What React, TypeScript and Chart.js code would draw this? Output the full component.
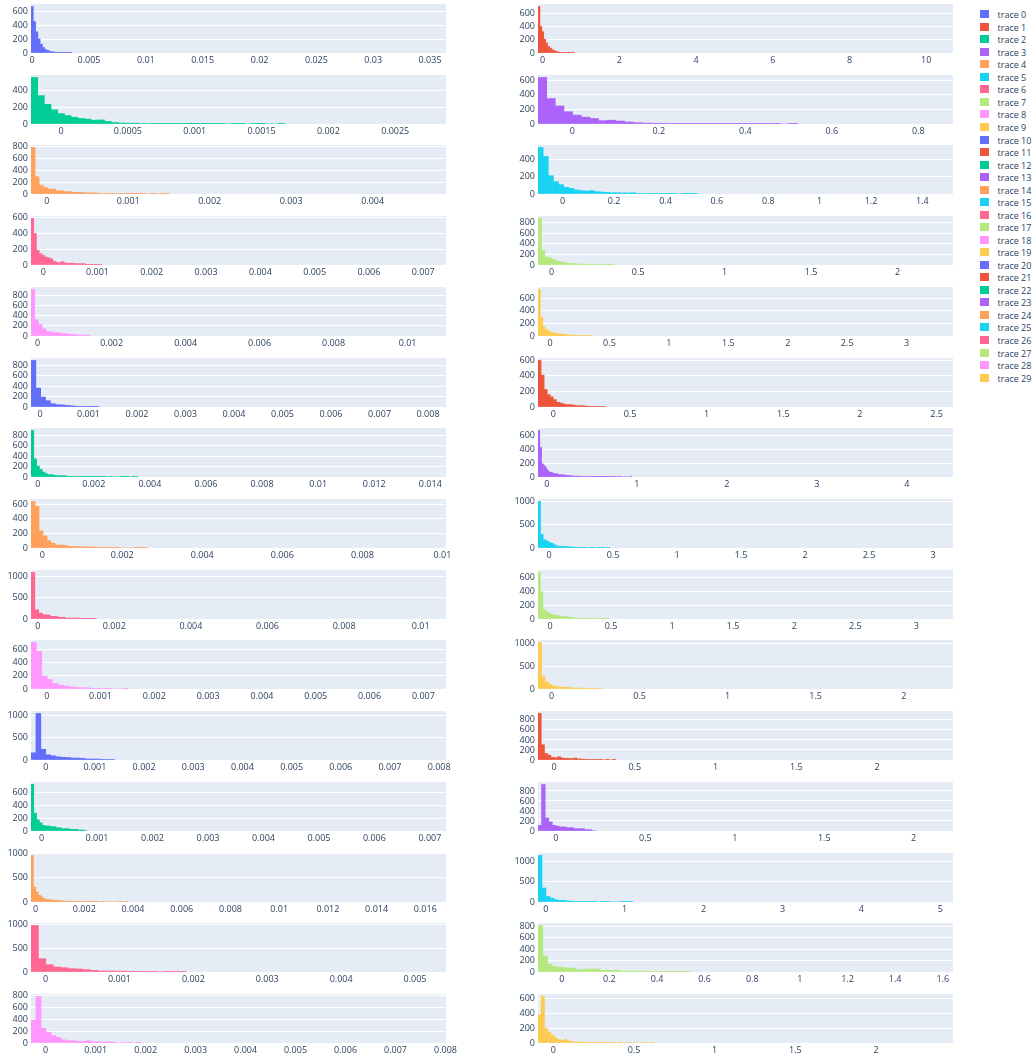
import React, { useEffect, useRef } from 'react';
import { Chart, registerables } from 'chart.js';

Chart.register(...registerables);

// ---------------- data ----------------
const TRACE_NAMES = [
  'trace 0', 'trace 1', 'trace 2', 'trace 3', 'trace 4', 'trace 5', 'trace 6', 'trace 7', 'trace 8', 'trace 9',
  'trace 10', 'trace 11', 'trace 12', 'trace 13', 'trace 14', 'trace 15', 'trace 16', 'trace 17', 'trace 18', 'trace 19',
  'trace 20', 'trace 21', 'trace 22', 'trace 23', 'trace 24', 'trace 25', 'trace 26', 'trace 27', 'trace 28', 'trace 29',
];

const PALETTE = ['#636efa', '#EF553B', '#00cc96', '#ab63fa', '#FFA15A', '#19d3f3', '#FF6692', '#B6E880', '#FF97FF', '#FECB52'];

// axis range start (= first bin edge) for each trace
const X_MIN = [
  -0.0001, -0.122, -0.000225, -0.0793, -0.000193, -0.096, -0.000225, -0.079, -0.00018, -0.101,
  -0.000186, -0.1, -0.00024, -0.097, -0.00028, -0.086, -0.000175, -0.098, -0.000292, -0.077,
  -0.0003, -0.099, -0.00019, -0.1, -0.00019, -0.098, -0.000198, -0.1, -0.000294, -0.095,
];
// axis range end for each trace
const X_MAX = [
  0.0364, 10.7, 0.00288, 0.88, 0.0049, 1.519, 0.00742, 2.32, 0.01104, 3.39,
  0.00837, 2.607, 0.01456, 4.514, 0.01009, 3.156, 0.01066, 3.3, 0.00742, 2.28,
  0.00814, 2.47, 0.00729, 2.22, 0.01685, 5.16, 0.00542, 1.643, 0.00801, 2.477,
];
const BIN_SIZE = [
  0.0002, 0.05, 0.00005, 0.02, 0.00005, 0.02, 0.00005, 0.02, 0.0001, 0.02,
  0.0001, 0.02, 0.0001, 0.02, 0.0001, 0.02, 0.0001, 0.02, 0.0001, 0.02,
  0.0001, 0.02, 0.00005, 0.02, 0.0001, 0.05, 0.0001, 0.02, 0.0001, 0.02,
];
const X_DTICK = [
  0.005, 2, 0.0005, 0.2, 0.001, 0.2, 0.001, 0.5, 0.002, 0.5,
  0.001, 0.5, 0.002, 1, 0.002, 0.5, 0.002, 0.5, 0.001, 0.5,
  0.001, 0.5, 0.001, 0.5, 0.002, 1, 0.001, 0.2, 0.001, 0.5,
];
const Y_DTICK = [
  200, 200, 200, 200, 200, 200, 200, 200, 200, 200,
  200, 200, 200, 200, 200, 500, 500, 200, 200, 500,
  500, 200, 200, 200, 500, 500, 500, 200, 200, 200,
];

const counts0 = [680, 460, 310, 205, 130, 80, 50, 35, 22, 18, 12, 8, 6, 5, 4, 3, 3, 2];
const counts1 = [700, 400, 320, 205, 150, 100, 75, 50, 35, 25, 15, 10, 8, 6, 5, 4, 3, 3, 2];
const counts2 = [550, 335, 233, 167, 123, 100, 80, 66, 58, 45, 48, 30, 18, 12, 10, 10, 6, 6, 8, 4, 3, 3, 3, 2, 2, 2, 2, 2, 2, 0, 2, 2, 0, 2, 2, 0, 0, 2];
const counts3 = [640, 350, 248, 169, 122, 94, 75, 45, 52, 40, 28, 18, 12, 10, 10, 8, 4, 4, 3, 3, 3, 2, 2, 2, 2, 2, 2, 2, 0, 2];
const counts4 = [777, 288, 147, 110, 82, 82, 55, 54, 40, 38, 28, 27, 25, 20, 20, 18, 14, 10, 10, 9, 8, 8, 7, 6, 6, 5, 4, 3, 0, 3, 3, 0, 2, 2];
const counts5 = [544, 439, 214, 144, 109, 78, 66, 47, 39, 35, 39, 27, 23, 19, 15, 15, 12, 12, 15, 6, 6, 5, 5, 5, 4, 4, 4, 0, 3, 3, 3];
const counts6 = [585, 395, 187, 143, 122, 100, 91, 78, 48, 35, 26, 42, 28, 22, 22, 22, 17, 17, 17, 17, 8, 8, 8, 8, 8, 6];
const counts7 = [880, 280, 150, 135, 110, 80, 60, 45, 35, 30, 25, 20, 18, 15, 12, 10, 8, 6, 5, 0, 4, 4];
const counts8 = [910, 320, 224, 141, 90, 80, 64, 64, 45, 45, 32, 32, 20, 20, 18, 15];
const counts9 = [740, 297, 146, 104, 78, 63, 52, 42, 36, 34, 28, 26, 18, 16, 14, 12, 10, 8, 6, 5, 4, 0, 4];
const counts10 = [897, 365, 192, 122, 64, 45, 40, 30, 22, 13, 8, 6, 6, 5];
const counts11 = [596, 407, 223, 159, 129, 94, 60, 51, 39, 30, 30, 26, 17, 17, 17, 13, 5, 5, 5, 5, 5, 5];
const counts12 = [893, 346, 208, 145, 94, 63, 44, 44, 31, 25, 25, 25, 20, 12, 12, 12, 10, 6, 6, 5, 5, 5, 4, 4, 4, 3, 3, 0, 3, 0, 0, 0, 3, 3, 3, 0, 2, 2];
const counts13 = [666, 422, 188, 164, 131, 94, 70, 68, 50, 47, 45, 35, 33, 32, 30, 23, 22, 20, 18, 14, 13, 12, 12, 11, 10, 9, 8, 7, 6, 6, 5, 5, 4, 4, 4, 3, 3, 3, 3, 3, 2, 2, 2, 0, 2, 2, 0, 0, 0, 0, 0, 2];
const counts14 = [636, 569, 233, 166, 99, 67, 40, 42, 35, 22, 22, 20, 18, 15, 15, 12, 12, 6, 5, 5, 4, 4, 0, 0, 0, 0, 3, 3, 3];
const counts15 = [1000, 296, 176, 155, 120, 99, 70, 42, 38, 35, 32, 30, 21, 20, 18, 15, 8, 6, 5, 0, 5, 4, 0, 4, 4, 4, 0, 3];
const counts16 = [1100, 219, 140, 102, 94, 62, 62, 39, 39, 23, 23, 23, 23, 16, 16, 16, 16];
const counts17 = [677, 399, 134, 110, 86, 72, 62, 53, 50, 38, 38, 32, 29, 25, 20, 18, 15, 12, 10, 10, 8, 7, 6, 6, 5, 0, 4, 4, 3];
const counts18 = [700, 566, 197, 143, 84, 59, 44, 30, 22, 20, 18, 10, 10, 8, 6, 0, 0, 3];
const counts19 = [1014, 264, 157, 100, 64, 50, 45, 36, 36, 25, 21, 21, 18, 14, 14, 12, 10, 8];
const counts20 = [160, 1036, 239, 116, 94, 72, 60, 56, 45, 43, 36, 22, 22, 22, 15, 10, 10];
const counts21 = [929, 305, 130, 97, 52, 45, 65, 40, 35, 32, 28, 38, 22, 19, 15, 8, 8, 8, 6, 6, 0, 5, 0, 4];
const counts22 = [717, 273, 172, 126, 86, 76, 76, 66, 66, 50, 50, 35, 35, 35, 25, 25, 25, 15, 15, 10];
const counts23 = [111, 930, 260, 180, 113, 93, 80, 80, 66, 66, 46, 46, 46, 26, 26, 10];
const counts24 = [955, 306, 204, 136, 102, 68, 54, 48, 48, 34, 34, 27, 27, 20, 18, 17, 15, 14, 12, 12, 11, 10, 8, 7, 6, 5, 5, 4, 0, 4, 0, 0, 0, 0, 0, 0, 3, 3, 0, 3];
const counts25 = [1160, 350, 138, 98, 57, 42, 40, 28, 18, 14, 10, 8, 7, 6, 5, 0, 4, 4, 0, 0, 0, 3, 3, 3];
const counts26 = [979, 280, 154, 105, 91, 70, 63, 49, 35, 22, 21, 21, 20, 14, 8, 7, 7, 0, 5, 5, 5];
const counts27 = [816, 282, 138, 98, 86, 80, 69, 69, 40, 40, 52, 52, 52, 29, 29, 29, 34, 17, 17, 17, 17, 17, 17, 11, 11, 11, 11, 11, 11, 11, 11, 11];
const counts28 = [387, 790, 249, 182, 127, 94, 55, 39, 39, 28, 28, 38, 22, 22, 20, 18, 16, 0, 0, 5, 0, 5];
const counts29 = [386, 627, 195, 145, 105, 68, 45, 36, 48, 30, 18, 14, 13, 12, 10, 8, 6, 6, 5, 5, 4, 4, 4, 4, 0, 4, 0, 0, 3, 0, 0, 0, 3, 0, 0, 3];

const COUNTS = [
  counts0, counts1, counts2, counts3, counts4, counts5, counts6, counts7, counts8, counts9,
  counts10, counts11, counts12, counts13, counts14, counts15, counts16, counts17, counts18, counts19,
  counts20, counts21, counts22, counts23, counts24, counts25, counts26, counts27, counts28, counts29,
];

// ---------------- layout ----------------
const PLOT_LEFT = [31, 538];
const AXIS_W = [31, 36];
const PLOT_W = 415;
const PLOT_H = 49;
const ROW_TOP0 = 4;
const ROW_PITCH = 70.71;
const PAD_T = 10;
const PAD_R = 24;
const XAXIS_H = 20;

const TEXT = '#2a3f5f';
const FONT = { family: "'Open Sans', 'Liberation Sans', sans-serif", size: 9 };

function fmt(v: number): string {
  return String(parseFloat(Number(v).toPrecision(10)));
}

function makeTicks(min: number, max: number, step: number) {
  const out: { value: number }[] = [];
  const k0 = Math.ceil(min / step - 1e-9);
  const k1 = Math.floor(max / step + 1e-9);
  for (let k = k0; k <= k1; k++) out.push({ value: parseFloat((k * step).toPrecision(12)) });
  return out;
}

const bgPlugin = {
  id: 'plotBg',
  beforeDraw(chart: any) {
    const { ctx, chartArea } = chart;
    ctx.save();
    ctx.fillStyle = '#E5ECF6';
    ctx.fillRect(chartArea.left, chartArea.top, chartArea.right - chartArea.left, chartArea.bottom - chartArea.top);
    ctx.restore();
  },
};

function Hist({ idx }: { idx: number }) {
  const ref = useRef<HTMLCanvasElement | null>(null);
  const col = idx % 2;
  const row = Math.floor(idx / 2);
  const width = AXIS_W[col] + PLOT_W + PAD_R;
  const height = PAD_T + PLOT_H + XAXIS_H;
  const left = PLOT_LEFT[col] - AXIS_W[col];
  const top = Math.round(ROW_TOP0 + ROW_PITCH * row) - PAD_T;

  useEffect(() => {
    if (!ref.current) return;
    const counts = COUNTS[idx];
    const x0 = X_MIN[idx];
    const size = BIN_SIZE[idx];
    const maxCount = Math.max(...counts);
    const yMax = maxCount / 0.95;
    const xStep = X_DTICK[idx];
    const yStep = Y_DTICK[idx];
    const chart = new Chart(ref.current, {
      type: 'bar',
      data: {
        datasets: [
          {
            label: TRACE_NAMES[idx],
            data: counts.map((c, i) => ({ x: x0 + (i + 0.5) * size, y: c })),
            backgroundColor: PALETTE[idx % PALETTE.length],
            borderWidth: 0,
            barPercentage: 1,
            categoryPercentage: 1,
          } as any,
        ],
      },
      options: {
        responsive: false,
        animation: false,
        events: [],
        layout: { padding: { top: PAD_T, right: PAD_R, left: 0, bottom: 0 } },
        plugins: { legend: { display: false }, tooltip: { enabled: false } },
        scales: {
          x: {
            type: 'linear',
            min: X_MIN[idx],
            max: X_MAX[idx],
            offset: false,
            grid: { display: false, drawTicks: false },
            border: { display: false },
            ticks: {
              font: FONT,
              color: TEXT,
              padding: 2,
              maxRotation: 0,
              minRotation: 0,
              autoSkip: false,
              includeBounds: false,
              callback: (v: any) => fmt(Number(v)),
            },
            afterBuildTicks: (s: any) => {
              s.ticks = makeTicks(s.min, s.max, xStep);
            },
            afterFit: (s: any) => {
              s.height = XAXIS_H;
            },
          },
          y: {
            type: 'linear',
            min: 0,
            max: yMax,
            grid: { color: '#ffffff', lineWidth: 1, drawTicks: false },
            border: { display: false },
            ticks: {
              font: FONT,
              color: TEXT,
              padding: 3,
              autoSkip: false,
              includeBounds: false,
              callback: (v: any) => fmt(Number(v)),
            },
            afterBuildTicks: (s: any) => {
              s.ticks = makeTicks(0, s.max, yStep);
            },
            afterFit: (s: any) => {
              s.width = AXIS_W[col];
            },
          },
        },
      } as any,
      plugins: [bgPlugin],
    });
    return () => chart.destroy();
  }, [idx]);

  return (
    <div style={{ position: 'absolute', left, top, width, height }}>
      <canvas ref={ref} width={width} height={height} style={{ width, height, display: 'block' }} />
    </div>
  );
}

function Legend() {
  return (
    <>
      {TRACE_NAMES.map((name, i) => {
        const cy = 14.2 + 12.53 * i;
        return (
          <div
            key={name}
            style={{
              position: 'absolute',
              left: 980,
              top: Math.round(cy - 6),
              height: 12,
              display: 'flex',
              alignItems: 'center',
              fontFamily: FONT.family,
              fontSize: 9,
              color: TEXT,
              whiteSpace: 'nowrap',
            }}
          >
            <span
              style={{
                display: 'inline-block',
                width: 8.5,
                height: 8.5,
                background: PALETTE[i % PALETTE.length],
                marginRight: 9,
              }}
            />
            <span>{name}</span>
          </div>
        );
      })}
    </>
  );
}

export default function App() {
  return (
    <div
      style={{
        position: 'absolute',
        left: 0,
        top: 0,
        width: 1036,
        height: 1057,
        overflow: 'hidden',
        background: '#ffffff',
      }}
    >
      {TRACE_NAMES.map((_, i) => (
        <Hist key={i} idx={i} />
      ))}
      <Legend />
    </div>
  );
}
